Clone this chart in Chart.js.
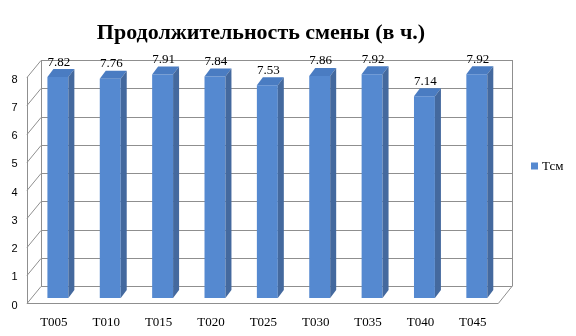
<!DOCTYPE html>
<html>
<head>
<meta charset="utf-8">
<script src="https://cdn.jsdelivr.net/npm/chart.js@4.4.0/dist/chart.umd.min.js"></script>
<style>
  html, body { margin: 0; padding: 0; background: #fff; }
  #wrap { width: 576px; height: 336px; }
</style>
</head>
<body>
<div id="wrap"><canvas id="myChart" width="576" height="336"></canvas></div>
<script>
// données du graphique
const categories = ['T005', 'T010', 'T015', 'T020', 'T025', 'T030', 'T035', 'T040', 'T045'];
const tcmValues = [7.82, 7.76, 7.91, 7.84, 7.53, 7.86, 7.92, 7.14, 7.92];
const seriesName = 'Тсм';
const chartTitle = 'Продолжительность смены (в ч.)';
const yTicks = [0, 1, 2, 3, 4, 5, 6, 7, 8];

// couleurs des faces
const FRONT = '#5589d0';
const SIDE = '#44699e';
const TOP = '#4a7cc2';
const GRID = '#8f8f8f';

// décalages de la perspective (plan des barres -> plan avant / plan du fond)
const FRONT_DX = -4.7, FRONT_DY = 5;
const BACK_DX = 9.3, BACK_DY = -12;
const BAR_DX = 6, BAR_DY = -8;

const serif = "'Liberation Serif', 'Times New Roman', serif";

// ======================= PLUGIN 3D =======================

const walls3d = {
    id: 'walls3d',
    beforeDatasetsDraw(chart) {
        const { ctx, chartArea: a, scales: { y } } = chart;
        const fL = a.left + FRONT_DX, fR = a.right + FRONT_DX;
        const bL = a.left + BACK_DX, bR = a.right + BACK_DX;
        const top = y.getPixelForValue(yTicks[yTicks.length - 1]);
        const zero = y.getPixelForValue(0);
        ctx.save();
        ctx.strokeStyle = GRID;
        ctx.lineWidth = 1;
        ctx.beginPath();
        yTicks.forEach(v => {
            const p = Math.round(y.getPixelForValue(v)) + 0.5;
            // ligne du fond
            ctx.moveTo(bL, p + BACK_DY);
            ctx.lineTo(bR, p + BACK_DY);
            // diagonale du mur gauche
            ctx.moveTo(fL, p + FRONT_DY);
            ctx.lineTo(bL, p + BACK_DY);
        });
        const vx = x => Math.round(x) + 0.5;
        ctx.moveTo(vx(bL), top + BACK_DY);
        ctx.lineTo(vx(bL), zero + BACK_DY);
        ctx.moveTo(vx(bR), top + BACK_DY);
        ctx.lineTo(vx(bR), zero + BACK_DY);
        ctx.moveTo(vx(fL), top + FRONT_DY);
        ctx.lineTo(vx(fL), zero + FRONT_DY);
        // sol
        const zf = Math.round(zero + FRONT_DY) + 0.5;
        ctx.moveTo(fL, zf);
        ctx.lineTo(fR, zf);
        ctx.lineTo(bR, zero + BACK_DY);
        ctx.stroke();
        ctx.restore();
    },
    afterDatasetsDraw(chart) {
        const { ctx } = chart;
        const meta = chart.getDatasetMeta(0);
        ctx.save();
        meta.data.forEach((bar, i) => {
            const half = bar.width / 2;
            const l = bar.x - half, r = bar.x + half;
            // face du dessus
            ctx.fillStyle = TOP;
            ctx.beginPath();
            ctx.moveTo(l, bar.y);
            ctx.lineTo(r, bar.y);
            ctx.lineTo(r + BAR_DX, bar.y + BAR_DY);
            ctx.lineTo(l + BAR_DX, bar.y + BAR_DY);
            ctx.closePath();
            ctx.fill();
            // face de côté
            ctx.fillStyle = SIDE;
            ctx.beginPath();
            ctx.moveTo(r, bar.y);
            ctx.lineTo(r + BAR_DX, bar.y + BAR_DY);
            ctx.lineTo(r + BAR_DX, bar.base + BAR_DY);
            ctx.lineTo(r, bar.base);
            ctx.closePath();
            ctx.fill();
            // étiquette de valeur
            ctx.fillStyle = '#000';
            ctx.font = `13px ${serif}`;
            ctx.textAlign = 'center';
            ctx.textBaseline = 'middle';
            ctx.fillText(tcmValues[i].toFixed(2), bar.x + 1, bar.y - 15);
        });
        ctx.restore();
    },
    afterDraw(chart) {
        // légende à droite
        const { ctx, chartArea: a } = chart;
        const lx = a.right + 28, ly = 166;
        ctx.save();
        ctx.fillStyle = FRONT;
        ctx.fillRect(lx, ly - 3.5, 7, 7);
        ctx.fillStyle = '#000';
        ctx.font = `13px ${serif}`;
        ctx.textAlign = 'left';
        ctx.textBaseline = 'middle';
        ctx.fillText(chart.data.datasets[0].label, lx + 11, ly + 1);
        ctx.restore();
    }
};

// ======================= GRAPHIQUE =======================

const ctx = document.getElementById('myChart').getContext('2d');
new Chart(ctx, {
    type: 'bar',
    data: {
        labels: categories,
        datasets: [{
            label: seriesName,
            data: tcmValues,
            backgroundColor: FRONT,
            borderWidth: 0,
            categoryPercentage: 1,
            barPercentage: 0.4
        }]
    },
    options: {
        responsive: false,
        animation: false,
        layout: { padding: { left: 19, right: 73, top: 0, bottom: 0 } },
        scales: {
            x: {
                grid: { display: false, drawTicks: false },
                border: { display: false },
                ticks: { color: '#000', font: { family: serif, size: 13 }, padding: 17, labelOffset: -4, maxRotation: 0 },
                afterFit(scale) { scale.height = 38; }
            },
            y: {
                min: 0,
                max: 8,
                grid: { display: false, drawTicks: false },
                border: { display: false },
                // mirror : évite le découpage des étiquettes hors de la zone de l'axe
                ticks: { stepSize: 1, mirror: true, color: '#000', font: { family: "'Liberation Sans', Arial, sans-serif", size: 11 }, padding: -20.2, labelOffset: 7.5 },
                afterFit(scale) { scale.width = 12.7; }
            }
        },
        plugins: {
            legend: { display: false },
            tooltip: { enabled: false },
            title: {
                display: true,
                text: chartTitle,
                color: '#000',
                font: { family: serif, size: 22, weight: 'bold', lineHeight: 1.2 },
                padding: { top: 19.8, bottom: 25.8 }
            }
        }
    },
    plugins: [walls3d]
});
</script>
</body>
</html>
